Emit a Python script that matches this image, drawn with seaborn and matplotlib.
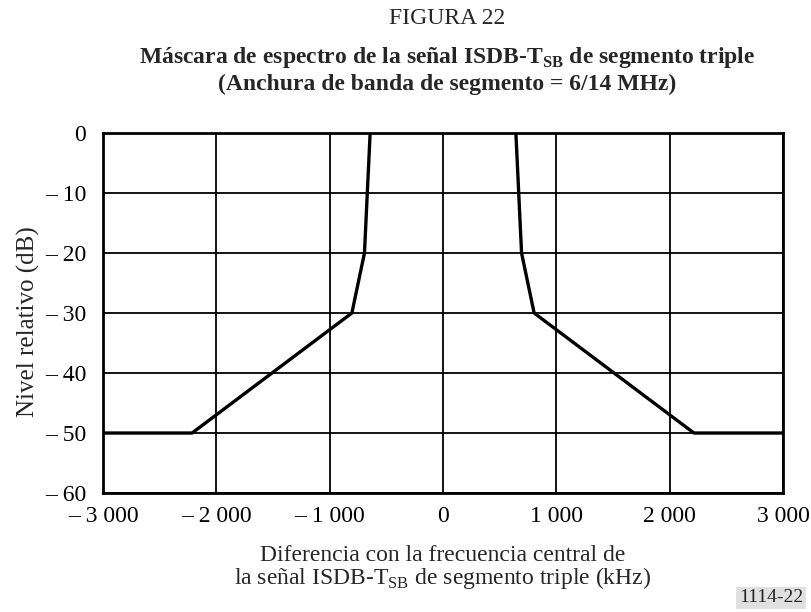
import pandas as pd
import matplotlib
matplotlib.use("Agg")
import matplotlib.pyplot as plt
import seaborn as sns

# spectrum mask corner points (kHz, dB)
left_freq = [-3000, -2214, -804, -693, -643]
left_level = [-50, -50, -30, -20, 0]
right_freq = [643, 693, 804, 2214, 3000]
right_level = [0, -20, -30, -50, -50]

x_ticks = [-3000, -2000, -1000, 0, 1000, 2000, 3000]
x_ticklabels = ["\u2013 3 000", "\u2013 2 000", "\u2013 1 000", "0", "1 000", "2 000", "3 000"]
y_ticks = [-60, -50, -40, -30, -20, -10, 0]
y_ticklabels = ["\u2013 60", "\u2013 50", "\u2013 40", "\u2013 30", "\u2013 20", "\u2013 10", "0"]

df = pd.DataFrame({
    "freq": left_freq + right_freq,
    "level": left_level + right_level,
    "branch": ["left"] * len(left_freq) + ["right"] * len(right_freq),
})

sns.set_style("white")
plt.rcParams["font.family"] = ["Liberation Serif", "DejaVu Serif"]
plt.rcParams["mathtext.fontset"] = "custom"
plt.rcParams["mathtext.rm"] = "Liberation Serif"
plt.rcParams["mathtext.bf"] = "Liberation Serif:bold"

fig = plt.figure(figsize=(8.11, 6.12), dpi=100)
ax = fig.add_axes([0.127, 0.1944, 0.8385, 0.5883])

sns.lineplot(data=df, x="freq", y="level", units="branch", estimator=None,
             color="black", linewidth=2.4, ax=ax, zorder=3)

ax.set_xlim(-3000, 3000)
ax.set_ylim(-60, 0)
ax.set_xticks(x_ticks)
ax.set_xticklabels(x_ticklabels)
ax.set_yticks(y_ticks)
ax.set_yticklabels(y_ticklabels)
ax.tick_params(axis="x", length=0, labelsize=17, pad=9, colors="black")
ax.tick_params(axis="y", length=0, labelsize=17, pad=12, colors="black")
ax.grid(True, color="black", linewidth=1.3)
for s in ax.spines.values():
    s.set_color("black")
    s.set_linewidth(2)

ax.set_xlabel("")
ax.set_ylabel("Nivel relativo (dB)", fontsize=18)
ax.yaxis.set_label_coords(-0.092, 0.475)

fig.text(0.546, 0.0833, "Diferencia con la frecuencia central de",
         ha="center", va="baseline", fontsize=17)
fig.text(0.546, 0.046, "la señal ISDB-T$_{\\mathrm{SB}}$ de segmento triple (kHz)",
         ha="center", va="baseline", fontsize=17)

fig.text(0.551, 0.96, "FIGURA 22", ha="center", va="baseline", fontsize=17)
fig.text(0.551, 0.897, "Máscara de espectro de la señal ISDB-T$_{\\mathbf{SB}}$ de segmento triple",
         ha="center", va="baseline", fontsize=17, fontweight="bold")
fig.text(0.551, 0.853, "(Anchura de banda de segmento = 6/14 MHz)",
         ha="center", va="baseline", fontsize=17, fontweight="bold")
fig.text(0.951, 0.023, "1114-22", ha="center", va="center", fontsize=14,
         bbox=dict(facecolor="#e0e0e0", edgecolor="none", pad=2))

fig.savefig("out.png", dpi=100)
